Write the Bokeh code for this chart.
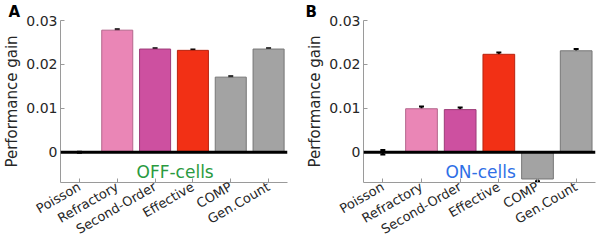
from bokeh.plotting import figure
from bokeh.layouts import row
from bokeh.models import (ColumnDataSource, FixedTicker, Span, Whisker, TeeHead, Label, Title)
from bokeh.embed import file_html
from bokeh.resources import INLINE

categories = ["Poisson", "Refractory", "Second-Order", "Effective", "COMP", "Gen.Count"]
off_values = [0.0, 0.0278, 0.0235, 0.0232, 0.0171, 0.0235]
off_errors = [0.0001, 0.0002, 0.0002, 0.0002, 0.0002, 0.0002]
on_values = [0.0, 0.0099, 0.0097, 0.0223, -0.0061, 0.0231]
on_errors = [0.0005, 0.0005, 0.0005, 0.0004, 0.0005, 0.0004]
fill_colors = ["#ffffff", "#EA86B6", "#CD50A0", "#F23015", "#A3A3A3", "#A3A3A3"]
line_colors = ["#ffffff", "#B4668C", "#9C3C78", "#B82410", "#767676", "#767676"]
y_ticks = [0, 0.01, 0.02, 0.03]
y_tick_labels = ["0", "0.01", "0.02", "0.03"]

FONT = "DejaVu Sans"
HEIGHT = 246
TOP = 17
BOTTOM = 63


def panel(values, errors, letter, note, note_color, w, left, right, letter_x):
    xs = list(range(1, len(categories) + 1))
    title = Title(text=letter, align="left", offset=letter_x - left, standoff=0,
                  text_font=FONT, text_font_size="15px", text_font_style="bold",
                  text_color="black", text_line_height=0.7)
    p = figure(width=w, height=HEIGHT, x_range=(0.5, 6.5), y_range=(-0.0069, 0.03),
               output_backend="svg", toolbar_location=None, title=title,
               min_border_left=left, min_border_right=right,
               min_border_top=TOP, min_border_bottom=BOTTOM)
    p.outline_line_color = None
    p.xgrid.visible = False
    p.ygrid.visible = False
    src = ColumnDataSource(dict(x=xs, top=values, fill=fill_colors, line=line_colors,
                                upper=[v + e for v, e in zip(values, errors)],
                                lower=[v - e for v, e in zip(values, errors)]))
    p.vbar(x="x", top="top", bottom=0, width=0.82, fill_color="fill",
           line_color="line", line_width=1, source=src)
    p.add_layout(Span(location=0, dimension="width", line_color="black", line_width=3))
    p.add_layout(Whisker(base="x", upper="upper", lower="lower", source=src,
                         line_color="black", line_width=2,
                         upper_head=TeeHead(size=5, line_width=2, line_color="black"),
                         lower_head=TeeHead(size=5, line_width=2, line_color="black")))
    for ax in (p.xaxis[0], p.yaxis[0]):
        ax.axis_line_color = "#9a9a9a"
        ax.major_tick_line_color = "#9a9a9a"
        ax.major_tick_in = 4
        ax.major_tick_out = 0
        ax.minor_tick_line_color = None
        ax.major_label_text_font = FONT
        ax.major_label_text_color = "#262626"
    p.xaxis.ticker = FixedTicker(ticks=xs)
    p.xaxis.major_label_overrides = {x: c for x, c in zip(xs, categories)}
    p.xaxis.major_label_orientation = 0.5236
    p.xaxis.major_label_standoff = 3
    p.xaxis.major_label_text_font_size = "13px"
    p.yaxis.ticker = FixedTicker(ticks=y_ticks)
    p.yaxis.major_label_overrides = {t: l for t, l in zip(y_ticks, y_tick_labels)}
    p.yaxis.major_label_standoff = 3
    p.yaxis.major_label_text_font_size = "14px"
    p.yaxis.axis_label = "Performance gain"
    p.yaxis.axis_label_text_font = FONT
    p.yaxis.axis_label_text_font_size = "15px"
    p.yaxis.axis_label_text_font_style = "normal"
    p.yaxis.axis_label_text_color = "#262626"
    p.yaxis.axis_label_standoff = 2
    p.add_layout(Label(x=3.53, y=-0.0044, text=note, text_color=note_color,
                       text_font=FONT, text_font_size="17px",
                       text_align="center", text_baseline="middle"))
    return p


pA = panel(off_values, off_errors, "A", "OFF-cells", "#2A9A40", 298, 55, 11, 3)
pB = panel(on_values, on_errors, "B", "ON-cells", "#2F6FE6", 298, 65, 1, 7)

layout = row(pA, pB)

open("out.html", "w").write(file_html(layout, INLINE))
